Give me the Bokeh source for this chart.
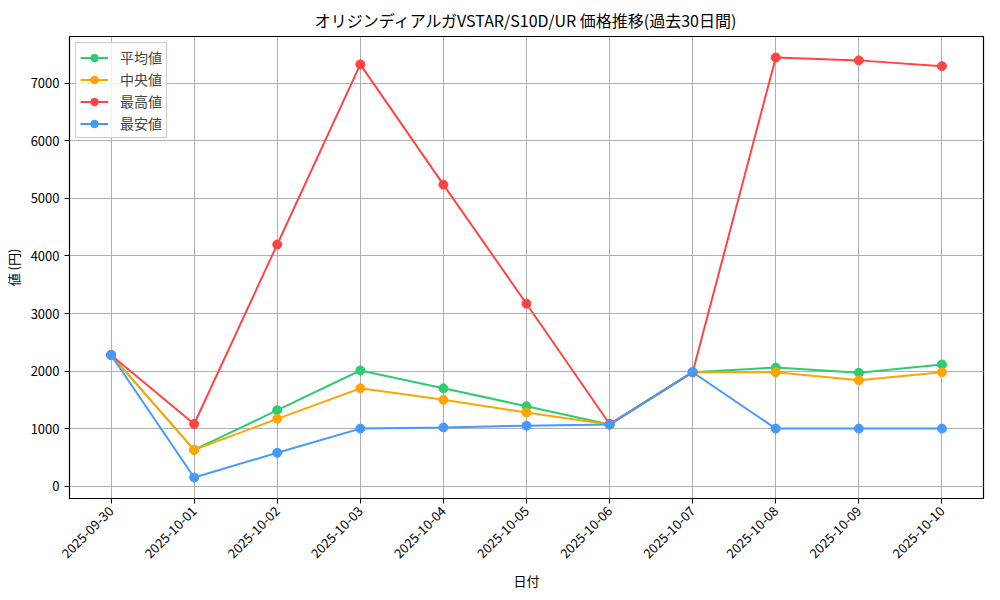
import math
from bokeh.plotting import figure
from bokeh.models import Range1d, FixedTicker, Legend, LegendItem
from bokeh.embed import file_html
from bokeh.resources import INLINE

dates = ["2025-09-30", "2025-10-01", "2025-10-02", "2025-10-03", "2025-10-04",
         "2025-10-05", "2025-10-06", "2025-10-07", "2025-10-08", "2025-10-09", "2025-10-10"]
avg_vals = [2280, 630, 1320, 2010, 1700, 1390, 1070, 1980, 2060, 1970, 2115]
median_vals = [2280, 630, 1170, 1700, 1500, 1280, 1070, 1980, 1980, 1840, 1980]
max_vals = [2280, 1080, 4200, 7330, 5240, 3170, 1080, 1980, 7450, 7400, 7300]
min_vals = [2280, 150, 580, 1000, 1020, 1050, 1070, 1980, 1000, 1000, 1000]
y_ticks = [0, 1000, 2000, 3000, 4000, 5000, 6000, 7000]

series = [
    ("平均値", avg_vals, "#2ecc71"),
    ("中央値", median_vals, "#ffa500"),
    ("最高値", max_vals, "#ff4444"),
    ("最安値", min_vals, "#4499ff"),
]

FONT = "Noto Sans CJK JP"
x = list(range(len(dates)))
Y0, Y1 = -215, 7815

p = figure(width=988, height=584, output_backend="svg", toolbar_location=None,
           x_range=Range1d(-0.5, len(dates) - 0.5), y_range=Range1d(Y0, Y1),
           min_border_left=66, min_border_right=8, min_border_top=28, min_border_bottom=94,
           title="オリジンディアルガVSTAR/S10D/UR 価格推移(過去30日間)")
p.frame_width = 914
p.frame_height = 462

p.title.align = "center"
p.title.text_font = FONT
p.title.text_font_size = "16px"
p.title.text_font_style = "normal"
p.title.text_color = "black"

items = []
for label, vals, color in series:
    ln = p.line(x, vals, line_color=color, line_width=2)
    sc = p.scatter(x, vals, size=9, fill_color=color, line_color=color)
    items.append(LegendItem(label=label, renderers=[ln, sc]))

legend = Legend(items=items, location="top_left")
legend.label_text_font = FONT
legend.label_text_font_size = "14px"
legend.border_line_color = "#cccccc"
legend.border_line_alpha = 1
legend.background_fill_alpha = 0.8
legend.glyph_width = 28
legend.label_standoff = 12
legend.label_height = 19
legend.glyph_height = 19
legend.spacing = 2
legend.padding = 4
legend.margin = 6
p.add_layout(legend)

p.xaxis.ticker = FixedTicker(ticks=x)
p.xaxis.major_label_overrides = {i: d for i, d in enumerate(dates)}
p.xaxis.major_label_orientation = math.pi / 4
p.xaxis.major_label_text_align = "center"
p.xaxis.major_label_text_baseline = "middle"
p.yaxis.ticker = FixedTicker(ticks=y_ticks)
p.xaxis.axis_label = "日付"
p.yaxis.axis_label = "値 (円)"

for ax in (p.xaxis, p.yaxis):
    ax.axis_label_text_font = FONT
    ax.axis_label_text_font_size = "13px"
    ax.axis_label_text_font_style = "normal"
    ax.axis_label_text_color = "black"
    ax.major_label_text_font = FONT
    ax.major_label_text_font_size = "13px"
    ax.major_label_text_color = "black"
    ax.axis_line_color = None
    ax.major_tick_line_color = "black"
    ax.major_tick_out = 5
    ax.major_tick_in = 0
    ax.minor_tick_line_color = None

p.outline_line_color = "black"
p.outline_line_width = 1.2
p.xgrid.ticker = FixedTicker(ticks=x)
p.grid.grid_line_color = "#b0b0b0"
p.grid.grid_line_width = 1

open("out.html", "w").write(file_html(p, INLINE))
